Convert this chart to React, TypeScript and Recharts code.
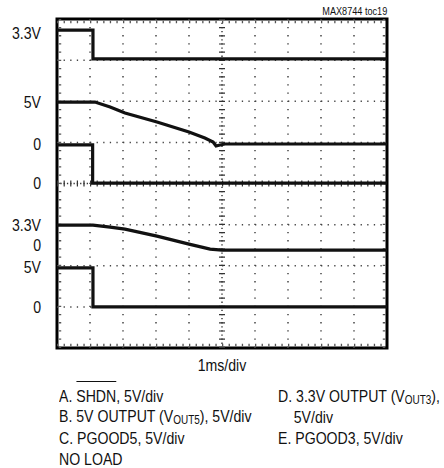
import React from 'react';
import { LineChart, Line, XAxis, YAxis, ReferenceLine, ReferenceArea } from 'recharts';

const FONT = "'Liberation Sans', Arial, sans-serif";
const NARROW = 0.83;
const VOLTS_PER_DIV = 5;

// scope traces: t in ms (1ms/div), v in volts (5V/div)
const shdn = [
  { t: 0, v: 3.5 }, { t: 1.09, v: 3.5 }, { t: 1.09, v: 0 }, { t: 10, v: 0 },
];
const vout5 = [
  { t: 0, v: 5.1 }, { t: 1.15, v: 5.1 }, { t: 1.61, v: 4.5 }, { t: 2.06, v: 3.77 },
  { t: 3.03, v: 2.68 }, { t: 4.0, v: 1.46 }, { t: 4.48, v: 0.73 }, { t: 4.73, v: 0.25 },
  { t: 4.82, v: -0.24 }, { t: 4.94, v: -0.12 }, { t: 5.09, v: 0 }, { t: 10, v: 0 },
];
const pgood5 = [
  { t: 0, v: 4.65 }, { t: 1.08, v: 4.65 }, { t: 1.08, v: 0 }, { t: 10, v: 0 },
];
const vout3 = [
  { t: 0, v: 3.04 }, { t: 1.09, v: 3.04 }, { t: 1.61, v: 2.8 }, { t: 2.06, v: 2.55 },
  { t: 3.03, v: 1.7 }, { t: 4.0, v: 0.73 }, { t: 4.64, v: 0.12 }, { t: 5.0, v: 0 }, { t: 10, v: 0 },
];
const pgood3 = [
  { t: 0, v: 4.74 }, { t: 1.09, v: 4.74 }, { t: 1.09, v: 0 }, { t: 10, v: 0 },
];

const traces = [shdn, vout5, pgood5, vout3, pgood3];
// ground level of each channel on screen, in divisions from the bottom
const groundLevels = [7.03, 4.96, 4.01, 2.38, 1.0];

const channelNames = ['A', 'B', 'C', 'D', 'E'];
const channelLabelDivs = [7.05, 5.59, 4.26, 2.63, 1.22];

const levelLabels = ['3.3V', '5V', '0', '0', '3.3V', '0', '5V', '0'];
const levelLabelDivs = [7.66, 5.98, 4.96, 4.01, 2.99, 2.5, 1.97, 1.0];

const xGrid = [1, 2, 3, 4, 6, 7, 8, 9];
const yGrid = [1, 2, 3, 5, 6, 7];

const series = traces.map((tr, i) =>
  tr.map((p) => ({ t: p.t, y: groundLevels[i] + p.v / VOLTS_PER_DIV }))
);

const textStyle: React.CSSProperties = {
  position: 'absolute',
  fontFamily: FONT,
  fontSize: 17,
  lineHeight: '20.8px',
  color: '#111',
  whiteSpace: 'nowrap',
  transform: `scaleX(${NARROW})`,
  transformOrigin: 'left top',
};

const Sub = ({ children }: { children: React.ReactNode }) => (
  <span style={{ fontSize: 12, position: 'relative', top: 2 }}>{children}</span>
);

const makeTick = (labels: string[]) => (props: any) => {
  const { x, y, index, textAnchor } = props;
  return (
    <text
      transform={`translate(${x},${y}) scale(${NARROW},1)`}
      x={0}
      y={0}
      dy="0.355em"
      textAnchor={textAnchor}
      fill="#111"
      fontSize={17}
      fontFamily={FONT}
    >
      {labels[index]}
    </text>
  );
};

export default function App() {
  const dotH = '1.3 5.3';
  const dotV = '1.3 6.9';
  return (
    <div style={{ position: 'absolute', left: 0, top: 0, width: 444, height: 468, background: '#fff' }}>
      <LineChart width={444} height={468} margin={{ top: 19, right: 0, bottom: 120, left: 0 }}>
        <XAxis type="number" dataKey="t" domain={[0, 10]} hide height={0} allowDataOverflow />
        <YAxis
          yAxisId="left"
          type="number"
          domain={[0, 8]}
          width={57}
          ticks={levelLabelDivs}
          interval={0}
          axisLine={false}
          tickLine={false}
          tickSize={0}
          tickMargin={16}
          tick={makeTick(levelLabels)}
          allowDataOverflow
        />
        <YAxis
          yAxisId="right"
          orientation="right"
          type="number"
          domain={[0, 8]}
          width={57}
          ticks={channelLabelDivs}
          interval={0}
          axisLine={false}
          tickLine={false}
          tickSize={0}
          tickMargin={16}
          tick={makeTick(channelNames)}
        />
        {xGrid.map((x) => (
          <ReferenceLine key={`gx${x}`} yAxisId="left" x={x} stroke="#444" strokeWidth={1.5} strokeDasharray={dotV} />
        ))}
        {yGrid.map((y) => (
          <ReferenceLine key={`gy${y}`} yAxisId="left" y={y} stroke="#444" strokeWidth={1.5} strokeDasharray={dotH} />
        ))}
        <ReferenceLine yAxisId="left" x={5} stroke="#333" strokeWidth={1.4} strokeDasharray="1.3 2.8" />
        <ReferenceLine yAxisId="left" x={5} stroke="#333" strokeWidth={6} strokeDasharray="1.2 7" />
        <ReferenceLine yAxisId="left" y={4} stroke="#333" strokeWidth={1.4} strokeDasharray="1.3 2" />
        <ReferenceLine yAxisId="left" y={4} stroke="#333" strokeWidth={6} strokeDasharray="1.2 5.4" />
        <ReferenceLine yAxisId="left" y={7.93} stroke="#555" strokeWidth={2.5} strokeDasharray={dotH} />
        <ReferenceLine yAxisId="left" y={0.07} stroke="#555" strokeWidth={2.5} strokeDasharray={dotH} />
        <ReferenceLine yAxisId="left" x={0.09} stroke="#555" strokeWidth={2.5} strokeDasharray={dotV} />
        <ReferenceLine yAxisId="left" x={9.91} stroke="#555" strokeWidth={2.5} strokeDasharray={dotV} />
        {series.map((data, i) => (
          <Line
            key={channelNames[i]}
            yAxisId="left"
            data={data}
            dataKey="y"
            type="linear"
            stroke="#111"
            strokeWidth={3.2}
            dot={false}
            isAnimationActive={false}
          />
        ))}
        <ReferenceArea
          yAxisId="left"
          x1={0}
          x2={10}
          y1={0}
          y2={8}
          fill="none"
          stroke="#000"
          strokeWidth={3}
          ifOverflow="visible"
        />
      </LineChart>

      <div
        style={{
          ...textStyle,
          fontSize: 11,
          lineHeight: '12px',
          left: undefined,
          right: 57,
          top: 5,
          transformOrigin: 'right top',
        }}
      >
        MAX8744 toc19
      </div>
      <div style={{ ...textStyle, left: 0, width: 444, textAlign: 'center', top: 356, transformOrigin: 'center top' }}>
        1ms/div
      </div>

      <div style={{ ...textStyle, left: 59, top: 386.5 }}>
        <div>
          A.{' '}
          <span style={{ position: 'relative' }}>
            <span style={{ position: 'absolute', left: 0, right: 0, top: -6, borderTop: '1.5px solid #111' }} />
            SHDN
          </span>
          , 5V/div
        </div>
        <div>
          B. 5V OUTPUT (V<Sub>OUT5</Sub>), 5V/div
        </div>
        <div>C. PGOOD5, 5V/div</div>
        <div>NO LOAD</div>
      </div>

      <div style={{ ...textStyle, left: 278, top: 386.5 }}>
        <div>
          D. 3.3V OUTPUT (V<Sub>OUT3</Sub>),
        </div>
        <div style={{ paddingLeft: 19 }}>5V/div</div>
        <div>E. PGOOD3, 5V/div</div>
      </div>
    </div>
  );
}
